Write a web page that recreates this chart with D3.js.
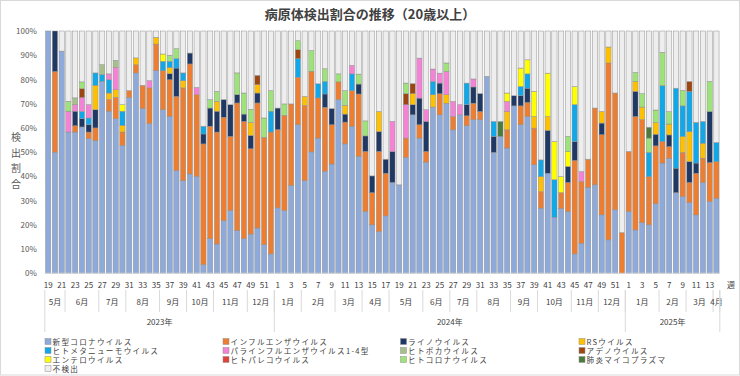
<!DOCTYPE html>
<meta charset="utf-8">
<script src="https://cdn.jsdelivr.net/npm/d3@7"></script>
<style>
body{margin:0;background:#fff;}
#chart svg{display:block;font-family:"Noto Sans CJK JP","Noto Sans",sans-serif;}
</style>
<div id="chart"></div>
<script>
// week numbers, one per bar (2023 w19 .. 2025 w14)
var weeks = [19,20,21,22,23,24,25,26,27,28,29,30,31,32,33,34,35,36,37,38,39,40,41,42,43,44,45,46,47,48,49,50,51,52,
  1,2,3,4,5,6,7,8,9,10,11,12,13,14,15,16,17,18,19,20,21,22,23,24,25,26,27,28,29,30,31,32,33,34,35,36,37,38,39,40,41,42,43,44,45,46,47,48,49,50,51,52,
  1,2,3,4,5,6,7,8,9,10,11,12,13,14];
// month groups: label, number of weeks
var months = [["5月",3],["6月",5],["7月",4],["8月",5],["9月",4],["10月",4],["11月",5],["12月",4],
  ["1月",4],["2月",5],["3月",4],["4月",4],["5月",5],["6月",4],["7月",4],["8月",5],["9月",4],["10月",5],["11月",4],["12月",4],
  ["1月",5],["2月",4],["3月",4],["4月",1]];
var years = [["2023年",34],["2024年",52],["2025年",14]];

// detection share (%) per week
var covid = [100,50,91.7,58.3,58.3,60.4,55.6,54.7,79.2,66.9, 63.8,52.8,72.6,82.7,68,61.8,83.6,67.5,64.8,42.4,
  38.2,41,40,3.6,14.3,12.1,21.7,25.9,17.6,14.3, 16.2,18.7,11.8,8,27,25.9,36.3,61.3,38.2,50.1,
  55.8,42.1,45.1,71.7,53.4,60.7,48.3,25.5,20,17.2, 23.7,37.5,36.5,47.9,65.4,55.8,45.9,68.6,65.4,70.2,
  59.2,65.4,60.9,63.4,63.4,81.3,49.9,56.5,51.7,69.1, 61.3,64.7,44.8,26.9,41.3,23.1,26.7,25.5,8,12.4,
  35.5,36.5,24.1,13.8,26.2,0,25.5,17.9,20.9,20, 28.7,45.5,47.5,33.3,31.7,29.2,24.1,37.5,29.6,31];
var flu = [0,33.3,0,0,2.6,0,2.7,5.3,0,4.8, 8.8,5.5,2.8,3.4,9.6,14.7,11,16.1,15.1,30.6,
  38.3,45.4,33.7,49.8,46.4,46.2,42.7,30.6,52.7,48.4, 35.2,51.6,44.3,50.3,32.3,39.3,33.6,19.6,31.1,33.3,
  16.6,26.4,16.2,7.3,9,14.7,25.7,24.8,13.3,33.1, 17.6,0,0,7.9,0,5.5,4.4,0,8.7,0,
  5.5,0,4.1,6.8,3.4,0,0,0,7.5,0, 7.8,5.8,15.1,6.8,0,0,6.6,12,38.6,25.5,
  11.6,31.7,33.1,73,48.2,16.8,24.8,46.8,42.5,19.9, 23.9,8.9,4.8,0,18.2,8.3,17.2,10,16.1,15.1];
var rhino = [0,16.7,0,0,6,3.4,3,7.5,0,0, 0,0,0,0,0,0,0,0,2.5,11.7,
  0,4.5,0,4.1,7.5,8.6,7.3,13.1,3.4,3, 5.5,4.1,0,0,8.9,0,0,0,0,0,
  0,5.5,6.7,0,3.3,0,4.1,6.4,6.9,8.2, 5.8,12.8,0,0,4.2,11,12.4,0,4.4,0,
  0,0,4.6,6.7,7.4,0,6.6,0,0,4.2, 4.2,5.9,0,0,17.7,0,0,6.6,7.8,0,
  0,0,4.8,0,0,0,0,10.4,0,0, 4.8,0,4.8,10.1,0,8.6,4.2,0,21.1,0];
var rsv = [0,0,0,0,0,0,0,10.1,0,2.7, 3.2,2.8,0,2.8,0,0,2.8,0,2.5,0,
  3,0,0,0,0,4.1,0,0,0,0, 5.4,3.5,0,0,0,0,0,0,3.7,0,
  0,0,0,0,3.6,0,0,0,0,8.3, 0,0,0,0,4.6,0,0,5.1,0,3.5,
  0,0,0,0,0,0,0,0,7.6,0, 0,0,4.8,6.2,5.7,0,0,0,0,0,
  0,0,4.8,6.6,0,0,0,4.1,5.2,0, 4.8,0,4.5,0,6.6,12.4,0,6.2,0,0];
var hmpv = [0,0,0,0,0,3,2.8,5.1,2.8,5.5, 0,5.8,0,0,0,0,0,3.9,2.6,3.9,
  3.2,0,0,3.2,0,0,0,0,0,0, 0,0,0,8.6,0,0,0,7.7,0,0,
  5.8,5.2,0,0,0,6.9,0,0,0,0, 0,0,0,0,0,0,0,5.5,0,0,
  0,0,8.9,0,0,0,6.2,0,0,0, 3.8,5.9,0,6.9,0,15.5,0,0,15.2,0,
  0,0,0,0,0,0,0,0,0,10, 0,23,0,33,12.6,16.6,16.8,9,0,7.9];
var para = [0,0,0,8.6,2.7,5.8,5.5,0,0,2.4, 9.2,0,0,0,0,3,0,0,0,0,
  0,0,3,0,0,0,0,0,0,0, 0,0,0,0,0,0,0,0,0,0,
  0,0,0,0,0,3.5,0,0,0,0, 0,12.4,0,13.8,0,16.5,4.8,5.1,4.1,9.6,
  6.2,4.2,0,3.3,0,0,0,0,4.1,0, 0,0,0,0,0,0,0,0,0,4.1,
  0,0,0,0,0,0,0,0,0,0, 0,0,0,0,0,0,0,0,0,0];
var boca = [0,0,0,0,2.8,0,0,0,4.1,0, 2.9,0,0,0,0,0,0,0,0,0,
  0,0,0,0,0,0,0,0,0,0, 0,0,0,0,0,0,0,0,0,0,
  0,0,0,0,0,0,0,0,0,0, 0,0,0,0,0,0,0,0,0,0,
  0,0,0,0,0,0,0,0,0,0, 0,0,0,0,0,0,0,0,0,0,
  0,0,0,0,0,0,0,0,0,0, 0,0,0,0,0,0,0,0,0,0];
var adeno = [0,0,0,0,0,3.6,0,0,0,0, 0,0,0,0,0,0,0,0,0,0,
  0,0,0,0,0,0,0,0,0,0, 0,3.8,0,0,0,0,0,3.7,0,0,
  0,0,0,0,0,0,0,0,0,0, 0,0,0,4.5,4.1,0,0,0,0,0,
  0,0,0,0,0,0,0,0,0,0, 0,0,0,0,0,0,0,0,0,0,
  0,0,0,0,0,0,0,0,0,0, 0,0,0,0,0,4.1,0,0,0,0];
var entero = [0,0,0,0,0,0,0,0,0,0, 0,2.7,0,0,0,0,0,3,0,0,
  0,0,0,0,0,0,0,0,0,0, 0,0,0,0,0,0,0,0,0,0,
  0,0,0,0,0,0,0,0,0,0, 0,0,0,0,0,0,0,0,0,0,
  0,0,0,0,0,0,0,0,3.5,0, 7.6,5.8,10.4,0,17.9,15.8,6.6,6.2,7.5,0,
  0,0,0,0,0,0,0,0,0,0, 0,0,0,0,0,0,0,0,0,0];
var parecho = [0,0,0,0,0,0,0,0,0,0, 0,0,0,0,0,0,0,0,0,0,
  0,0,0,0,0,0,0,0,0,0, 0,0,0,0,0,0,0,0,0,0,
  0,0,0,0,0,0,0,0,0,0, 0,0,0,0,0,0,0,0,0,0,
  0,0,0,0,0,0,0,0,0,0, 0,0,0,0,0,0,0,0,0,0,
  0,0,0,0,0,0,0,0,0,0, 0,0,0,0,0,0,0,0,0,0];
var hcov = [0,0,0,4.1,0,2.8,0,0,0,0, 0,0,0,0,0,0,0,0,2.5,4.1,
  0,0,0,0,3.5,4.1,0,0,9,8.7, 5.4,0,8,8.5,0,4.7,0,3.7,0,8.5,
  0,5.2,0,3.3,6.1,0,4.1,6.2,0,0, 0,0,0,4.4,0,0,0,0,0,3.5,
  0,0,0,0,0,0,0,0,0,0, 0,0,0,0,0,0,0,6.2,0,0,
  0,0,0,0,0,0,0,3.7,5.5,5.9, 5.2,13.8,5.1,0,6.4,0,0,0,12.4,0];
var myco = [0,0,0,0,0,0,0,0,0,0, 0,0,0,0,0,0,0,0,0,0,
  0,0,0,0,0,0,0,0,0,0, 0,0,0,0,0,0,0,0,0,0,
  0,0,0,0,0,0,0,0,0,0, 0,0,0,0,0,0,0,0,0,0,
  0,0,0,0,0,0,0,6.2,0,0, 0,0,0,0,0,0,0,0,0,0,
  0,0,0,0,0,0,0,0,0,4.5, 0,0,0,0,0,0,0,0,0,0];
var none = [0,0,8.3,29,27.6,21,30.4,17.3,13.9,17.7, 12.1,30.4,24.6,11.1,22.4,20.5,2.6,9.5,10,7.3,
  17.3,9.1,23.3,39.3,28.3,24.9,28.3,30.4,17.3,25.6, 32.3,18.3,35.9,24.6,31.8,30.1,30.1,4,27,8.1,
  21.8,15.6,32,17.7,24.6,14.2,17.8,37.1,59.8,33.2, 52.9,37.3,63.5,21.5,21.7,11.2,32.5,15.7,17.4,13.2,
  29.1,30.4,21.5,19.8,25.8,18.7,37.3,37.3,25.6,26.7, 15.3,11.9,24.9,53.2,17.4,45.6,60.1,43.5,22.9,58,
  52.9,31.8,33.2,6.6,25.6,83.2,49.7,17.1,25.9,39.7, 32.6,8.8,33.3,23.6,24.5,20.8,37.7,37.3,20.8,46];

var seriesNames = ["新型コロナウイルス","インフルエンザウイルス","ライノウイルス","RSウイルス",
  "ヒトメタニューモウイルス","パラインフルエンザウイルス1-4型","ヒトボカウイルス","アデノウイルス",
  "エンテロウイルス","ヒトパレコウイルス","ヒトコロナウイルス","肺炎マイコプラズマ","不検出"];
var seriesData = [covid,flu,rhino,rsv,hmpv,para,boca,adeno,entero,parecho,hcov,myco,none];
var colors = ["#8eaadb","#ed7d31","#203864","#ffc000","#10a8e8","#f483d6","#a7bf8c","#9c4712",
  "#ffff00","#e0413a","#9ee27a","#4b7c3c","#eeeeee"];

var W = 740, H = 376;
var margin = {top: 31, left: 44.8, right: 20.2};
var plotBottom = 273.3;

var svg = d3.select("#chart").append("svg")
    .attr("width", W)
    .attr("height", H);

svg.append("rect")
    .attr("x", 0.5).attr("y", 0.5)
    .attr("width", W - 1).attr("height", H - 1.5)
    .attr("fill", "#fff").attr("stroke", "#d9d9d9");

// table rows for d3.stack
var rows = weeks.map(function(w, i) {
  var r = {i: i};
  seriesData.forEach(function(s, k) { r["s" + k] = s[i]; });
  return r;
});
var keys = seriesData.map(function(s, k) { return "s" + k; });

var stack = d3.stack().keys(keys).offset(d3.stackOffsetExpand);
var layers = stack(rows);

var x = d3.scaleBand()
    .domain(d3.range(weeks.length))
    .range([margin.left, W - margin.right])
    .paddingInner(0.22).paddingOuter(0.11);

var y = d3.scaleLinear()
    .domain([0, 1])
    .range([plotBottom, margin.top]);

// title
svg.append("text")
    .attr("x", 370).attr("y", 19)
    .attr("text-anchor", "middle")
    .attr("font-size", "13px").attr("font-weight", "bold")
    .attr("fill", "#404040")
    .text("病原体検出割合の推移（20歳以上）");

// y axis
var yAxis = svg.append("g")
    .attr("transform", "translate(" + margin.left + ",0)")
    .call(d3.axisLeft(y).tickValues(d3.range(0, 1.01, 0.1)).tickFormat(d3.format(".0%")).tickSize(0).tickPadding(8));
yAxis.select(".domain").remove();
yAxis.selectAll("text").attr("font-size", "8px").attr("fill", "#595959")
    .attr("font-family", "\"Noto Sans CJK JP\", sans-serif");

// y title, stacked characters
var ytitle = "検出割合".split("");
svg.append("g").selectAll("text")
  .data(ytitle)
  .enter().append("text")
    .attr("x", 16)
    .attr("y", function(d, i) { return 141 + i * 15.6; })
    .attr("text-anchor", "middle")
    .attr("font-size", "10px")
    .attr("fill", "#595959")
    .text(function(d) { return d; });

// bars
svg.append("g").selectAll("g")
  .data(layers)
  .enter().append("g")
    .attr("fill", function(d, k) { return colors[k]; })
  .selectAll("rect")
  .data(function(d) { return d; })
  .enter().append("rect")
    .attr("x", function(d) { return x(d.data.i); })
    .attr("y", function(d) { return y(d[1]); })
    .attr("width", x.bandwidth())
    .attr("height", function(d) { return y(d[0]) - y(d[1]); })
    .attr("stroke", "#8f8f8f")
    .attr("stroke-width", 0.5);

// base line
svg.append("line")
    .attr("x1", margin.left).attr("x2", W - margin.right)
    .attr("y1", plotBottom).attr("y2", plotBottom)
    .attr("stroke", "#d9d9d9");

// week tick labels (every other week)
var xLab = svg.append("g");
xLab.selectAll("text")
  .data(weeks.map(function(w, i) { return {w: w, i: i}; }).filter(function(d) { return d.i % 2 == 0; }))
  .enter().append("text")
    .attr("x", function(d) { return x(d.i) + x.bandwidth() / 2; })
    .attr("y", 288)
    .attr("text-anchor", "middle")
    .attr("font-size", "8px")
    .attr("fill", "#404040")
    .text(function(d) { return d.w; });

svg.append("text")
    .attr("x", 731).attr("y", 288)
    .attr("text-anchor", "middle")
    .attr("font-size", "8px").attr("fill", "#404040")
    .text("週");

var step = x.step();
var left0 = margin.left;

// month labels and separators
var pos = 0;
months.forEach(function(m) {
  var x0 = left0 + pos * step, x1 = left0 + (pos + m[1]) * step;
  svg.append("text")
    .attr("x", (x0 + x1) / 2).attr("y", 305)
    .attr("text-anchor", "middle")
    .attr("font-size", "8px").attr("fill", "#404040")
    .text(m[0]);
  svg.append("line")
    .attr("x1", x1).attr("x2", x1).attr("y1", 290).attr("y2", 312)
    .attr("stroke", "#d9d9d9");
  pos += m[1];
});

// year labels and separators
pos = 0;
svg.append("line")
    .attr("x1", left0).attr("x2", left0).attr("y1", 290).attr("y2", 332)
    .attr("stroke", "#d9d9d9");
years.forEach(function(yr) {
  var x0 = left0 + pos * step, x1 = left0 + (pos + yr[1]) * step;
  svg.append("text")
    .attr("x", (x0 + x1) / 2).attr("y", 325)
    .attr("text-anchor", "middle")
    .attr("font-size", "8px").attr("fill", "#404040")
    .text(yr[0]);
  svg.append("line")
    .attr("x1", x1).attr("x2", x1).attr("y1", 290).attr("y2", 332)
    .attr("stroke", "#d9d9d9");
  pos += yr[1];
});

// legend, 4 columns
var colX = [45, 223, 400.5, 579];
var rowY = [341.5, 350.5, 359.5, 368.5];
var leg = svg.append("g").selectAll("g")
  .data(seriesNames)
  .enter().append("g")
    .attr("transform", function(d, k) { return "translate(" + colX[k % 4] + "," + rowY[Math.floor(k / 4)] + ")"; });
leg.append("rect")
    .attr("x", 0).attr("y", -3).attr("width", 6).attr("height", 6)
    .attr("fill", function(d, k) { return colors[k]; })
    .attr("stroke", "#8f8f8f").attr("stroke-width", 0.5);
leg.append("text")
    .attr("x", 7.5).attr("y", 3)
    .attr("font-size", "7.6px").attr("letter-spacing", "1.3px")
    .attr("fill", "#404040")
    .text(function(d) { return d; });
</script>
